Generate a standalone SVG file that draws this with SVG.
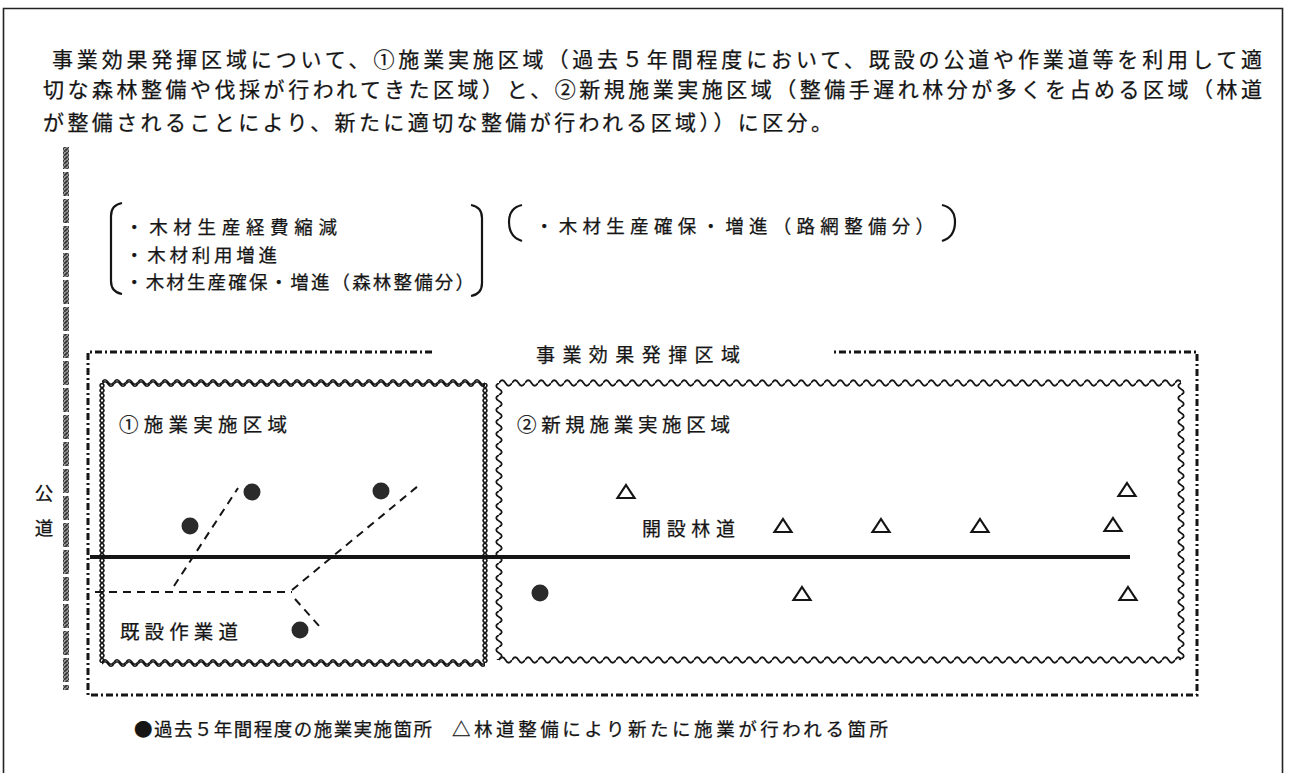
<svg xmlns="http://www.w3.org/2000/svg" width="1290" height="773" viewBox="0 0 1290 773">
<style>
text{font-family:'Noto Sans CJK JP','Noto Sans CJK SC',sans-serif;fill:#151515;stroke:#151515;stroke-width:0.25;dominant-baseline:central}
.p{font-size:21px}
.b{font-size:18.5px}
.l{font-size:19.5px}
.dash{fill:none;stroke:#151515;stroke-width:2;stroke-dasharray:8 6}
.dot{fill:#2a2a2a}
.tri{fill:none;stroke:#151515;stroke-width:2.2}
.br{fill:none;stroke:#151515;stroke-width:2.2}
</style>
<defs>
<pattern id="wH" patternUnits="userSpaceOnUse" width="13" height="10"><path d="M0 5 Q3.25 -0.5 6.5 5 T13 5" fill="none" stroke="#151515" stroke-width="1.8"/></pattern>
<pattern id="wH2" patternUnits="userSpaceOnUse" width="12" height="10"><path d="M0 4 Q3 -0.5 6 4 T12 4 M0 6 Q3 1.5 6 6 T12 6" fill="none" stroke="#151515" stroke-width="1.6"/></pattern>
<pattern id="wV" patternUnits="userSpaceOnUse" width="10" height="12"><path d="M5 0 Q-0.5 3 5 6 T5 12" fill="none" stroke="#151515" stroke-width="1.8"/></pattern>
<pattern id="wV2" patternUnits="userSpaceOnUse" width="10" height="10"><path d="M5 0 Q1 2.5 5 5 T5 10 M5 0 Q9 2.5 5 5 T5 10" fill="none" stroke="#151515" stroke-width="1.6"/></pattern>
<pattern id="hatch" patternUnits="userSpaceOnUse" width="4" height="4"><rect width="4" height="4" fill="#9a9a9a"/><path d="M-1 5 L5 -1" stroke="#333" stroke-width="1.6"/></pattern>
<path id="tri" d="M0 -7 L8.5 6 L-8.5 6 Z"/>
</defs>

<g id="page-border"><path d="M3.5 773 V8.5 H1282.5 V773" fill="none" stroke="#222" stroke-width="1.6"/></g>

<g id="intro">
<text class="p" x="52" y="58" textLength="1210" lengthAdjust="spacing">事業効果発揮区域について、①施業実施区域（過去５年間程度において、既設の公道や作業道等を利用して適</text>
<text class="p" x="43" y="88" textLength="1219" lengthAdjust="spacing">切な森林整備や伐採が行われてきた区域）と、②新規施業実施区域（整備手遅れ林分が多くを占める区域（林道</text>
<text class="p" x="43" y="121" textLength="789" lengthAdjust="spacing">が整備されることにより、新たに適切な整備が行われる区域））に区分。</text>
</g>

<g id="public-road">
<rect x="63" y="147" width="6" height="543" fill="url(#hatch)"/>
<line x1="66" y1="147" x2="66" y2="690" stroke="#fff" stroke-width="7" stroke-dasharray="3 24" stroke-dashoffset="-22"/>
<text class="b" x="44" y="492" text-anchor="middle">公</text>
<text class="b" x="44" y="527" text-anchor="middle">道</text>
</g>

<g id="effects-1">
<path class="br" d="M122 203 Q111 205 111 216 L111 281 Q111 292 122 294"/>
<path class="br" d="M471 205 Q482 207 482 218 L482 283 Q482 294 471 296"/>
<text class="b" x="125" y="226" textLength="212" lengthAdjust="spacing">・木材生産経費縮減</text>
<text class="b" x="125" y="254" textLength="152" lengthAdjust="spacing">・木材利用増進</text>
<text class="b" x="125" y="281" textLength="349" lengthAdjust="spacing">・木材生産確保・増進（森林整備分）</text>
</g>

<g id="effects-2">
<path class="br" d="M522 205 Q509 208 509 222 Q509 237 522 241"/>
<path class="br" d="M942 205 Q955 208 955 222 Q955 237 942 241"/>
<text class="b" x="535" y="225" textLength="399" lengthAdjust="spacing">・木材生産確保・増進（路網整備分）</text>
</g>

<g id="effect-area">
<path d="M432 352 H88 V695 H1197 V352 H833" fill="none" stroke="#151515" stroke-width="3" stroke-dasharray="7 3 2 3"/>
<text x="638" y="353" text-anchor="middle" font-size="19" textLength="204" lengthAdjust="spacing">事業効果発揮区域</text>
</g>

<g id="area-1">
<rect transform="translate(102,378)" width="383" height="10" fill="url(#wH2)"/>
<rect transform="translate(102,658)" width="383" height="10" fill="url(#wH2)"/>
<rect transform="translate(97,383)" width="10" height="280" fill="url(#wV2)"/>
<rect transform="translate(480,383)" width="10" height="280" fill="url(#wV2)"/>
<text class="l" x="119" y="423" textLength="168" lengthAdjust="spacing">①施業実施区域</text>
<text class="l" x="120" y="630" textLength="118" lengthAdjust="spacing">既設作業道</text>
</g>

<g id="area-2">
<rect transform="translate(499,378)" width="682" height="10" fill="url(#wH)"/>
<rect transform="translate(499,655)" width="682" height="10" fill="url(#wH)"/>
<rect transform="translate(494,383)" width="10" height="277" fill="url(#wV)"/>
<rect transform="translate(1176,383)" width="10" height="277" fill="url(#wV)"/>
<text class="l" x="517" y="423" textLength="213" lengthAdjust="spacing">②新規施業実施区域</text>
<text x="642" y="527" font-size="19" textLength="93" lengthAdjust="spacing">開設林道</text>
</g>

<g id="connectors">
<line x1="90" y1="557" x2="1130" y2="557" stroke="#151515" stroke-width="4"/>
<path class="dash" d="M95 592 H292"/>
<path class="dash" d="M174 586 L238 488"/>
<path class="dash" d="M292 590 L418 486"/>
<path class="dash" d="M295 599 L320 627"/>
</g>

<g id="past-sites">
<circle class="dot" cx="190" cy="526" r="8.5"/>
<circle class="dot" cx="252" cy="492" r="8.5"/>
<circle class="dot" cx="381" cy="491" r="8.5"/>
<circle class="dot" cx="300" cy="630" r="8.5"/>
<circle class="dot" cx="540" cy="593" r="8.5"/>
</g>

<g id="new-sites">
<use href="#tri" class="tri" x="626" y="492"/>
<use href="#tri" class="tri" x="1127" y="490"/>
<use href="#tri" class="tri" x="783" y="526"/>
<use href="#tri" class="tri" x="881" y="526"/>
<use href="#tri" class="tri" x="980" y="526"/>
<use href="#tri" class="tri" x="1113" y="525"/>
<use href="#tri" class="tri" x="802" y="594"/>
<use href="#tri" class="tri" x="1128" y="594"/>
</g>

<g id="legend">
<text class="b" x="134" y="728" textLength="298" lengthAdjust="spacing">●過去５年間程度の施業実施箇所</text>
<text class="b" x="452" y="728" textLength="436" lengthAdjust="spacing">△林道整備により新たに施業が行われる箇所</text>
</g>
</svg>
